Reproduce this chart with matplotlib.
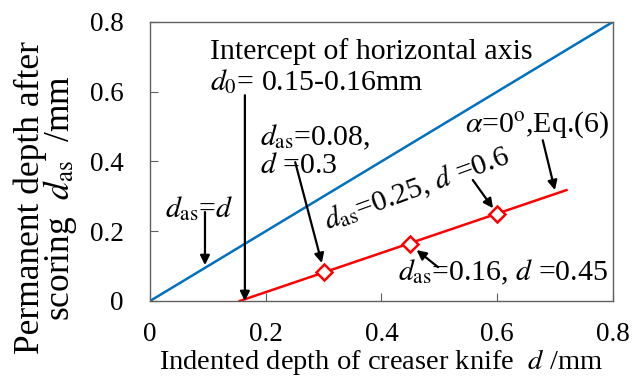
import matplotlib
matplotlib.use("Agg")
import matplotlib.pyplot as plt

plt.rcParams['font.family'] = ['Liberation Serif', 'DejaVu Serif']
plt.rcParams['mathtext.fontset'] = 'stix'

# Data
ref_x = [0.0, 0.8]          # d_as = d reference line
ref_y = [0.0, 0.8]
eq_x = [0.155, 0.72]        # alpha = 0, Eq.(6)
eq_y = [0.0, 0.318]
pts_x = [0.3, 0.45, 0.6]
pts_y = [0.082, 0.164, 0.249]
xticks = [0, 0.2, 0.4, 0.6, 0.8]
yticks = [0, 0.2, 0.4, 0.6, 0.8]
xtick_labels = ['0', '0.2', '0.4', '0.6', '0.8']
ytick_labels = ['0', '0.2', '0.4', '0.6', '0.8']

fig = plt.figure(figsize=(6.33, 3.76), dpi=100)
ax = fig.add_axes([0.237, 0.1995, 0.731, 0.742])

ax.plot(ref_x, ref_y, color='#0070C0', lw=1.8, zorder=2)
ax.plot(eq_x, eq_y, color='#FF0000', lw=1.8, zorder=2)
ax.plot(pts_x, pts_y, ls='none', marker='D', ms=8, mfc='white', mec='#FF0000', mew=1.8, zorder=3)

ax.set_xlim(0, 0.8)
ax.set_ylim(0, 0.8)
ax.set_xticks(xticks)
ax.set_xticklabels(xtick_labels)
ax.set_yticks(yticks)
ax.set_yticklabels(ytick_labels)
ax.tick_params(direction='in', length=6, labelsize=19.5, top=False, right=False, pad=19, color='#606060')
ax.tick_params(axis='x', pad=15)
for s in ax.spines.values():
    s.set_color('#606060')
    s.set_linewidth(1.0)

ax.set_xlabel('Indented depth of creaser knife  $d$ /mm', fontsize=20.5, va='baseline')
ax.xaxis.set_label_coords(0.5, -0.243)
ax.set_ylabel('Permanent depth after\nscoring  $d_{\\mathrm{as}}$  /mm', fontsize=25.5, linespacing=0.78,
              va='center', ha='center')
ax.yaxis.set_label_coords(-0.225, 0.37)

fs = 21.5
arr = dict(arrowstyle='-|>', color='black', lw=1.6, mutation_scale=14, shrinkA=0, shrinkB=0)

ax.text(0.1037, 0.605, 'Intercept of horizontal axis\n$d_0$= 0.15-0.16mm', fontsize=fs,
        ha='left', va='baseline', linespacing=1.1, zorder=4)
ax.annotate('', xy=(0.164, 0.0), xytext=(0.164, 0.59), arrowprops=arr, zorder=5)

ax.text(0.026, 0.241, '$d_{\\mathrm{as}}$=$d$', fontsize=fs, ha='left', va='baseline', zorder=4)
ax.annotate('', xy=(0.095, 0.103), xytext=(0.095, 0.255), arrowprops=arr, zorder=5)

ax.text(0.190, 0.367, '$d_{\\mathrm{as}}$=0.08,\n$d$ =0.3', fontsize=fs, ha='left', va='baseline',
        linespacing=1.05, zorder=4)
ax.annotate('', xy=(0.297, 0.109), xytext=(0.251, 0.398), arrowprops=arr, zorder=5)

ax.text(0.544, 0.485, '$\\alpha$=0$^{\\mathrm{o}}$,Eq.(6)', fontsize=fs, ha='left', va='baseline', zorder=4)
ax.annotate('', xy=(0.700, 0.318), xytext=(0.679, 0.461), arrowprops=arr, zorder=5)

ax.text(0.3075, 0.2036, '$d_{\\mathrm{as}}$=0.25, $d$ =0.6', fontsize=fs, ha='left', va='baseline',
        rotation=20, rotation_mode='anchor', zorder=4)
ax.annotate('', xy=(0.593, 0.266), xytext=(0.558, 0.347), arrowprops=arr, zorder=5)

ax.text(0.428, 0.06, '$d_{\\mathrm{as}}$=0.16, $d$ =0.45', fontsize=fs, ha='left', va='baseline', zorder=4)
ax.annotate('', xy=(0.461, 0.146), xytext=(0.498, 0.097), arrowprops=arr, zorder=5)

fig.savefig('out.png', dpi=100)
